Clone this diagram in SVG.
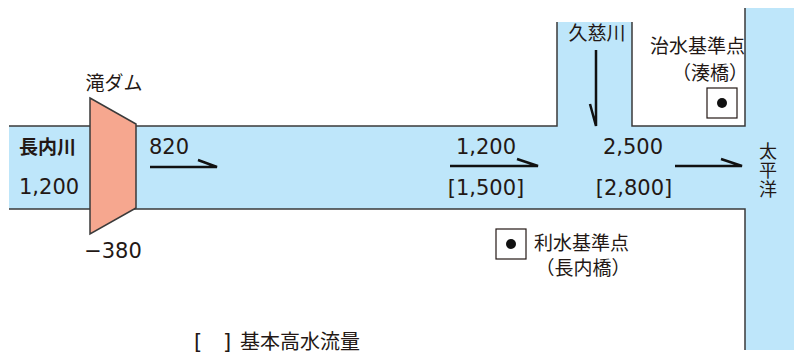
<svg xmlns="http://www.w3.org/2000/svg" width="794" height="356" viewBox="0 0 794 356">
<style>
text{font-family:"Noto Sans CJK JP","Noto Sans",sans-serif;fill:#231815;font-size:19px}
text.num{font-family:"DejaVu Sans","Noto Sans CJK JP",sans-serif;font-size:21px}
.water{fill:#bee6fa;stroke:none}
.edge{fill:none;stroke:#3a3a3a;stroke-width:1.5}
.arr{fill:none;stroke:#111;stroke-width:2.5}
.box{fill:#fff;stroke:#231815;stroke-width:1.2}
</style>
<rect width="794" height="356" fill="#fff"/>
<g id="water">
<rect class="water" x="9" y="126" width="740" height="83"/>
<rect class="water" x="557" y="22" width="75" height="106"/>
<rect class="water" x="745" y="8" width="49" height="342"/>
</g>
<g id="edges">
<polyline class="edge" points="9,126 557,126 557,22"/>
<polyline class="edge" points="632,22 632,126 745,126 745,8"/>
<polyline class="edge" points="9,209 745,209 745,350"/>
</g>
<g id="dam">
<polygon points="90,98 136,124 136,208 90,234" fill="#f6a78f" stroke="#3a3a3a" stroke-width="1.5"/>
<text x="114" y="90" text-anchor="middle">滝ダム</text>
<text class="num" x="113" y="258" text-anchor="middle">−380</text>
</g>
<g id="osanai">
<text x="19" y="154" font-weight="bold">長内川</text>
<text class="num" x="19" y="194">1,200</text>
</g>
<g id="connectors">
<path class="arr" d="M150,167 H217 L198,160"/>
<path class="arr" d="M450,166 H538 L517,159"/>
<path class="arr" d="M675,166 H742 L721,159"/>
<path class="arr" d="M596,50 V126 L590,104"/>
</g>
<g id="flows">
<text class="num" x="149" y="154">820</text>
<text class="num" x="486" y="154" text-anchor="middle">1,200</text>
<text class="num" x="486" y="195" text-anchor="middle">[1,500]</text>
<text class="num" x="633" y="154" text-anchor="middle">2,500</text>
<text class="num" x="634" y="195" text-anchor="middle">[2,800]</text>
</g>
<g id="kuji">
<text x="597" y="40" text-anchor="middle">久慈川</text>
</g>
<g id="pacific">
<text x="768" y="142" style="font-size:18px;writing-mode:vertical-rl;letter-spacing:1px">太平洋</text>
</g>
<g id="flood-point">
<text x="650" y="53">治水基準点</text>
<text x="710" y="80" text-anchor="middle">（湊橋）</text>
<rect class="box" x="707" y="88" width="30" height="30"/>
<circle cx="722" cy="103" r="5" fill="#111"/>
</g>
<g id="water-use-point">
<rect class="box" x="496" y="229" width="30" height="30"/>
<circle cx="511" cy="244" r="5" fill="#111"/>
<text x="534" y="250">利水基準点</text>
<text x="583" y="275" text-anchor="middle">（長内橋）</text>
</g>
<g id="legend">
<text class="num" x="194" y="349">[</text>
<text class="num" x="223" y="349">]</text>
<text x="240" y="349" style="font-size:20px">基本高水流量</text>
</g>
</svg>
